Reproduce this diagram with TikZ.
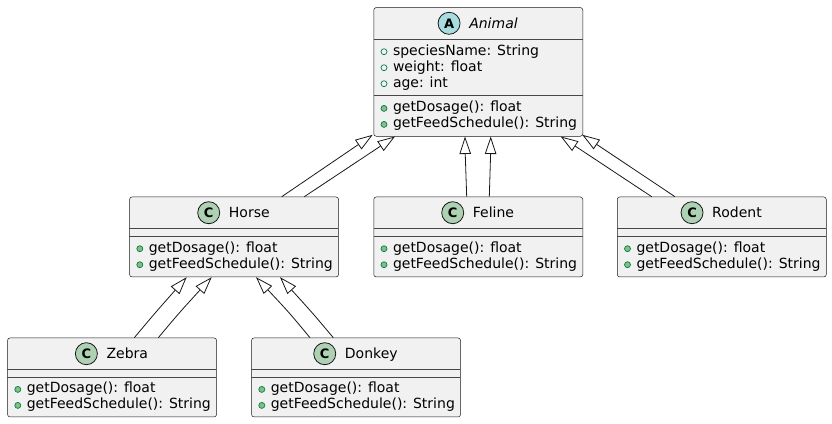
\documentclass[tikz,border=0pt]{standalone}
\usepackage{fontspec}
\setmainfont{DejaVu Sans}
\usetikzlibrary{arrows.meta,calc}
\definecolor{bordr}{HTML}{181818}
\definecolor{boxfill}{HTML}{F1F1F1}
\definecolor{iconc}{HTML}{ADD1B2}
\definecolor{icona}{HTML}{A9DCDF}
\definecolor{visline}{HTML}{038048}
\definecolor{visfill}{HTML}{84BE84}
\tikzset{
 umlbox/.style={draw=bordr, fill=boxfill, rounded corners=2.5pt, line width=0.5pt, minimum width=209pt, inner sep=0pt, anchor=north west},
 sepline/.style={draw=bordr!80, line width=0.5pt},
 member/.style={anchor=base west, inner sep=0pt, font=\fontsize{14}{16}\selectfont, text=black},
 umltitle/.style={anchor=base, inner sep=0pt, font=\fontsize{14}{16}\selectfont},
 umlicon/.style={circle, draw=bordr, line width=0.8pt, minimum size=22pt, inner sep=0pt, font=\fontsize{13}{13}\selectfont\bfseries},
 attrvis/.style={circle, draw=visline, line width=0.7pt, minimum size=6pt, inner sep=0pt},
 methvis/.style={circle, draw=visline, fill=visfill, line width=0.7pt, minimum size=6pt, inner sep=0pt},
 inherit/.style={draw=bordr, line width=0.8pt, -{Triangle[open, length=17.5pt, width=11.5pt, fill=white]}},
}
\newcommand\umlclass[8]{% #1 name, #2 left, #3 top, #4 height, #5 title, #6 letter, #7 icon colour, #8 attr section height
 \node[umlbox, minimum height=#4pt] (#1) at (#2, -#3) {};
 \node[umltitle] (#1T) at (#2+120, -#3-21) {#5};
 \node[umlicon, fill=#7] (#1I) at ([xshift=-20pt, yshift=5pt]#1T.base west) {#6};
 \draw[sepline] (#2, -#3-32) -- (#2+209, -#3-32);
 \draw[sepline] (#2, -#3-32-#8) -- (#2+209, -#3-32-#8);
}
\newcommand\umlmethods[3]{% #1 prefix, #2 left, #3 sep y
 \node[methvis] (#1v1) at (#2+10.5, -#3-16+3.3) {};
 \node[member] (#1m1) at (#2+19.3, -#3-16) {getDosage(): float};
 \node[methvis] (#1v2) at (#2+10.5, -#3-32+3.3) {};
 \node[member] (#1m2) at (#2+19.3, -#3-32) {getFeedSchedule(): String};
}
\begin{document}
\begin{tikzpicture}[x=1pt, y=1pt]
\useasboundingbox (0,0) rectangle (832,-423);
% Animal
\umlclass{animal}{373.5}{7.3}{128.7}{\itshape Animal}{A}{icona}{56.4}
\node[attrvis] (aav1) at (384, -55+3.3) {};
\node[member] (aam1) at (392.8, -55) {speciesName: String};
\node[attrvis] (aav2) at (384, -71+3.3) {};
\node[member] (aam2) at (392.8, -71) {weight: float};
\node[attrvis] (aav3) at (384, -87+3.3) {};
\node[member] (aam3) at (392.8, -87) {age: int};
\umlmethods{animalx}{373.5}{95.7}
% Horse, Feline, Rodent
\umlclass{horse}{129.3}{196.7}{80}{Horse}{C}{iconc}{7.3}
\umlmethods{horsex}{129.3}{236}
\umlclass{feline}{373.5}{196.7}{80}{Feline}{C}{iconc}{7.3}
\umlmethods{felinex}{373.5}{236}
\umlclass{rodent}{617}{196.7}{80}{Rodent}{C}{iconc}{7.3}
\umlmethods{rodentx}{617}{236}
% Zebra, Donkey
\umlclass{zebra}{7.3}{337.7}{79}{Zebra}{C}{iconc}{7.3}
\umlmethods{zebrax}{7.3}{376.7}
\umlclass{donkey}{251.3}{337.7}{79}{Donkey}{C}{iconc}{7.3}
\umlmethods{donkeyx}{251.3}{376.7}
% inheritance connectors
\draw[inherit] ($(horse.north west)+(152.4,0)$) -- ($(animal.south west)+(-0.8,1.7)$);
\draw[inherit] ($(horse.north west)+(175,0)$) -- ($(animal.south west)+(21.5,0)$);
\draw[inherit] ($(feline.north west)+(93.2,0)$) .. controls ($(feline.north west)+(92,22)$) .. ($(animal.south west)+(91.5,0)$);
\draw[inherit] ($(feline.north west)+(115.8,0)$) .. controls ($(feline.north west)+(117,22)$) .. ($(animal.south west)+(117.2,0)$);
\draw[inherit] ($(rodent.north west)+(34.7,0)$) -- ($(animal.south west)+(187.2,0)$);
\draw[inherit] ($(rodent.north west)+(58,0)$) -- ($(animal.south west)+(208.8,1.7)$);
\draw[inherit] ($(zebra.north west)+(127,0)$) .. controls ($(zebra.north west)+(148,25)$) .. ($(horse.south west)+(57.4,0)$);
\draw[inherit] ($(zebra.north west)+(151,0)$) .. controls ($(zebra.north west)+(172,25)$) .. ($(horse.south west)+(82.4,0)$);
\draw[inherit] ($(donkey.north west)+(58.7,0)$) .. controls ($(donkey.north west)+(38,25)$) .. ($(horse.south west)+(126.7,0)$);
\draw[inherit] ($(donkey.north west)+(82,0)$) .. controls ($(donkey.north west)+(61,25)$) .. ($(horse.south west)+(150.7,0)$);
\end{tikzpicture}
\end{document}
